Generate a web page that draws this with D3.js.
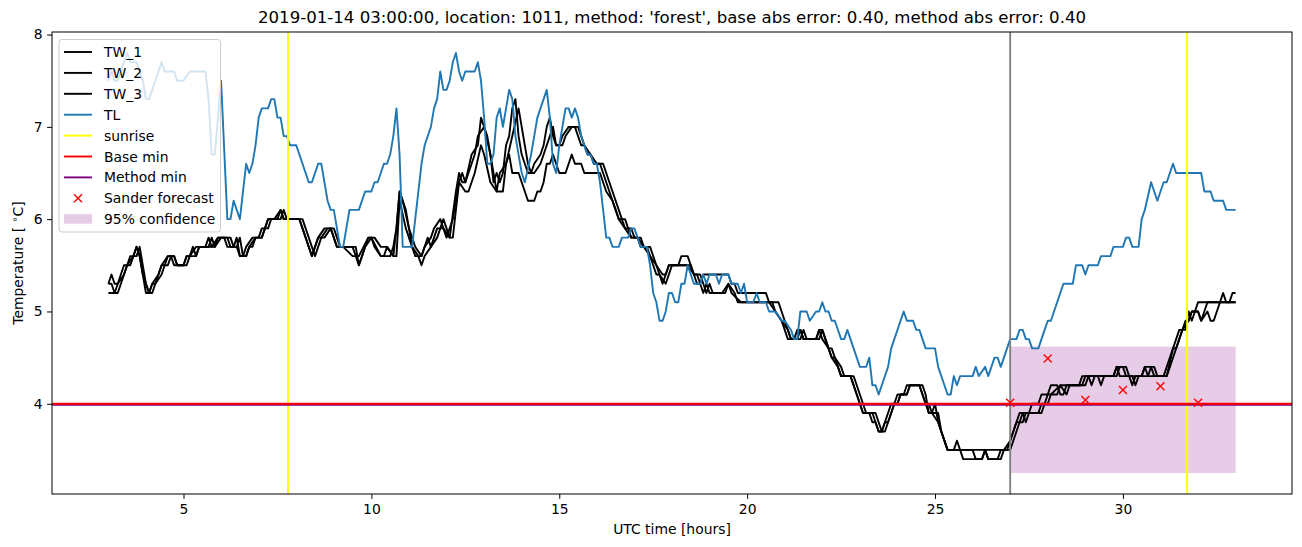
<!DOCTYPE html>
<html><head><meta charset="utf-8">
<script src="https://cdn.jsdelivr.net/npm/d3@7"></script>
<style>body{margin:0;background:#fff} svg{display:block} text{font-family:"DejaVu Sans",sans-serif;fill:#000}</style>
</head><body><svg id="c" width="1302" height="547"></svg>
<script>
// time in minutes after 00:00 UTC of the day, value in °C
const TL = [[180,7.5],[185,7.6],[190,7.5],[195,7.5],[210,7.8],[215,7.7],[225,7.7],[235,7.5],[240,7.3],[245,7.3],[265,7.7],[270,7.6],[285,7.6],[290,7.5],[300,7.5],[310,7.6],[335,7.6],[340,7.3],[345,6.7],[350,6.7],[360,7.5],[370,6.0],[375,6.0],[380,6.2],[390,6.0],[400,6.6],[405,6.5],[410,6.6],[415,6.8],[420,7.1],[425,7.2],[435,7.2],[440,7.3],[445,7.3],[450,7.1],[455,7.1],[460,6.9],[465,6.9],[470,6.8],[480,6.8],[500,6.4],[505,6.4],[515,6.6],[520,6.6],[530,6.2],[535,6.1],[540,6.1],[550,5.7],[555,5.7],[565,6.1],[580,6.1],[590,6.3],[600,6.3],[605,6.4],[610,6.4],[620,6.6],[625,6.6],[630,6.7],[635,6.9],[640,7.2],[645,6.7],[650,5.7],[665,5.7],[670,6.0],[680,6.6],[685,6.8],[695,7.0],[700,7.2],[705,7.3],[710,7.6],[715,7.4],[720,7.4],[725,7.5],[730,7.7],[735,7.8],[740,7.6],[745,7.5],[750,7.6],[765,7.6],[770,7.7],[775,7.5],[780,7.1],[785,6.6],[790,6.6],[795,6.7],[800,7.1],[805,7.2],[810,7.0],[820,7.4],[825,7.3],[830,6.9],[835,6.7],[840,6.5],[845,6.4],[855,6.7],[865,7.1],[870,7.2],[880,7.4],[885,7.1],[890,6.6],[895,6.5],[900,6.8],[910,7.2],[915,7.2],[920,7.1],[925,7.2],[930,7.1],[935,6.9],[945,6.7],[950,6.7],[955,6.6],[960,6.6],[965,6.4],[970,6.1],[975,5.8],[980,5.8],[985,5.7],[995,5.7],[1000,5.8],[1010,5.8],[1015,5.9],[1020,5.9],[1025,5.8],[1030,5.7],[1040,5.7],[1045,5.5],[1050,5.2],[1055,5.1],[1060,4.9],[1065,4.9],[1070,5.0],[1075,5.2],[1080,5.2],[1085,5.1],[1090,5.1],[1095,5.3],[1100,5.3],[1105,5.5],[1110,5.4],[1115,5.3],[1125,5.3],[1130,5.4],[1135,5.3],[1140,5.4],[1150,5.4],[1155,5.3],[1160,5.4],[1170,5.4],[1175,5.3],[1185,5.3],[1190,5.2],[1195,5.3],[1200,5.1],[1210,5.1],[1215,5.2],[1220,5.1],[1230,5.1],[1235,5.0],[1245,5.0],[1255,4.9],[1260,4.9],[1270,4.8],[1275,4.7],[1280,4.7],[1285,5.0],[1295,5.0],[1300,4.9],[1310,5.0],[1315,5.0],[1320,5.1],[1325,5.0],[1330,5.0],[1335,4.9],[1340,4.9],[1350,4.7],[1355,4.7],[1360,4.8],[1370,4.6],[1380,4.4],[1390,4.4],[1395,4.5],[1400,4.2],[1405,4.2],[1410,4.1],[1415,4.2],[1425,4.4],[1430,4.6],[1440,4.8],[1450,5.0],[1455,4.9],[1465,4.9],[1470,4.8],[1475,4.8],[1485,4.6],[1500,4.6],[1505,4.4],[1515,4.2],[1520,4.1],[1525,4.1],[1530,4.3],[1535,4.2],[1540,4.3],[1560,4.3],[1565,4.4],[1570,4.3],[1580,4.4],[1585,4.3],[1595,4.5],[1600,4.5],[1605,4.4],[1620,4.7],[1630,4.7],[1635,4.8],[1640,4.8],[1645,4.7],[1650,4.7],[1655,4.6],[1665,4.6],[1675,4.8],[1680,4.9],[1685,4.9],[1695,5.1],[1705,5.3],[1720,5.3],[1725,5.5],[1735,5.5],[1740,5.4],[1745,5.5],[1760,5.5],[1765,5.6],[1780,5.6],[1785,5.7],[1800,5.7],[1805,5.8],[1810,5.8],[1815,5.7],[1825,5.7],[1830,6.0],[1835,6.1],[1845,6.4],[1855,6.2],[1865,6.4],[1870,6.4],[1880,6.6],[1885,6.5],[1925,6.5],[1930,6.3],[1940,6.3],[1945,6.2],[1960,6.2],[1965,6.1],[1980,6.1]];

const TW_1 = [[180,5.3],[185,5.4],[190,5.3],[195,5.3],[200,5.4],[205,5.5],[210,5.5],[215,5.6],[220,5.6],[225,5.7],[230,5.6],[235,5.4],[240,5.2],[245,5.2],[250,5.3],[255,5.3],[260,5.4],[265,5.5],[270,5.5],[275,5.6],[280,5.6],[285,5.5],[300,5.5],[305,5.6],[310,5.6],[315,5.7],[320,5.6],[325,5.7],[335,5.7],[340,5.8],[345,5.7],[350,5.7],[355,5.8],[370,5.8],[375,5.7],[380,5.7],[385,5.8],[390,5.6],[395,5.6],[400,5.7],[410,5.8],[420,5.8],[425,5.9],[430,5.9],[435,6.0],[445,6.0],[455,6.1],[460,6.0],[485,6.0],[490,5.9],[495,5.8],[505,5.6],[515,5.8],[525,5.9],[535,5.9],[545,5.7],[555,5.7],[570,5.6],[580,5.6],[595,5.8],[600,5.8],[615,5.6],[620,5.6],[625,5.7],[635,5.6],[640,5.9],[645,6.3],[650,6.2],[655,6.1],[660,5.9],[670,5.7],[680,5.6],[685,5.7],[695,5.8],[700,5.9],[710,6.0],[715,5.9],[725,5.8],[735,6.3],[740,6.5],[745,6.4],[750,6.4],[760,6.7],[770,6.8],[775,7.1],[780,7.0],[790,6.7],[795,6.4],[800,6.5],[805,6.4],[810,6.5],[815,6.8],[820,6.9],[825,7.2],[830,7.3],[835,6.9],[840,6.7],[845,6.6],[850,6.5],[855,6.5],[860,6.6],[870,6.7],[875,6.8],[880,7.0],[885,7.1],[890,6.9],[895,6.8],[900,6.8],[905,6.9],[915,7.0],[925,7.0],[930,6.9],[935,6.8],[940,6.8],[945,6.7],[950,6.7],[955,6.6],[965,6.6],[970,6.5],[975,6.4],[980,6.3],[990,6.1],[995,6.0],[1000,6.0],[1005,5.9],[1010,5.9],[1015,5.8],[1025,5.8],[1030,5.7],[1040,5.7],[1045,5.6],[1050,5.5],[1055,5.4],[1060,5.4],[1065,5.3],[1070,5.4],[1075,5.5],[1090,5.5],[1095,5.6],[1105,5.6],[1110,5.5],[1115,5.4],[1120,5.4],[1125,5.3],[1130,5.4],[1170,5.4],[1175,5.3],[1180,5.3],[1185,5.2],[1230,5.2],[1235,5.1],[1250,5.1],[1260,4.9],[1270,4.7],[1275,4.7],[1280,4.8],[1285,4.8],[1290,4.7],[1310,4.7],[1315,4.8],[1320,4.8],[1325,4.7],[1330,4.6],[1335,4.5],[1340,4.5],[1345,4.4],[1350,4.3],[1365,4.3],[1370,4.2],[1375,4.1],[1380,4.0],[1385,3.9],[1400,3.9],[1405,3.8],[1410,3.7],[1415,3.7],[1420,3.8],[1425,3.9],[1430,4.0],[1435,4.0],[1440,4.1],[1450,4.1],[1455,4.2],[1475,4.2],[1480,4.1],[1485,4.0],[1490,3.9],[1495,3.9],[1500,4.0],[1505,3.8],[1510,3.7],[1515,3.6],[1520,3.5],[1530,3.5],[1535,3.6],[1540,3.5],[1615,3.5],[1620,3.6],[1625,3.7],[1630,3.8],[1635,3.9],[1640,3.9],[1645,3.8],[1650,3.9],[1670,3.9],[1675,4.0],[1680,4.1],[1685,4.1],[1700,4.2],[1740,4.2],[1745,4.3],[1785,4.3],[1790,4.4],[1805,4.4],[1810,4.3],[1830,4.3],[1835,4.4],[1845,4.4],[1850,4.3],[1865,4.3],[1875,4.5],[1880,4.6],[1885,4.7],[1890,4.8],[1895,4.8],[1900,4.9],[1905,4.9],[1910,5.0],[1915,5.0],[1920,5.1],[1980,5.1]];

const TW_2 = [[180,5.2],[190,5.2],[195,5.3],[205,5.4],[210,5.5],[220,5.6],[225,5.6],[230,5.7],[235,5.5],[240,5.3],[245,5.2],[250,5.2],[255,5.3],[265,5.4],[270,5.5],[275,5.5],[280,5.6],[285,5.6],[290,5.5],[305,5.5],[310,5.6],[320,5.7],[330,5.7],[340,5.7],[345,5.8],[350,5.7],[360,5.8],[375,5.8],[380,5.7],[385,5.7],[390,5.8],[395,5.6],[400,5.6],[405,5.7],[415,5.8],[425,5.8],[430,5.9],[435,5.9],[440,6.0],[455,6.0],[460,6.1],[465,6.0],[490,6.0],[495,5.9],[500,5.8],[505,5.7],[510,5.6],[515,5.7],[520,5.8],[530,5.9],[540,5.9],[550,5.7],[575,5.7],[580,5.5],[585,5.6],[595,5.8],[605,5.8],[615,5.7],[625,5.7],[635,5.6],[640,5.6],[645,6.2],[655,5.9],[665,5.7],[670,5.6],[680,5.6],[690,5.8],[695,5.7],[705,5.8],[715,6.0],[720,5.9],[725,5.8],[730,5.8],[740,6.4],[745,6.5],[750,6.4],[755,6.5],[765,6.7],[770,6.9],[780,7.0],[785,6.9],[795,6.5],[800,6.3],[805,6.5],[815,6.6],[825,6.9],[835,7.2],[840,7.0],[845,6.8],[850,6.6],[855,6.5],[860,6.5],[870,6.6],[880,6.8],[885,6.9],[890,7.0],[895,6.8],[905,6.8],[910,6.9],[920,7.0],[930,7.0],[935,6.9],[940,6.8],[950,6.7],[960,6.6],[970,6.6],[975,6.5],[980,6.4],[985,6.3],[995,6.1],[1000,6.0],[1005,6.0],[1010,5.9],[1015,5.9],[1020,5.8],[1030,5.8],[1035,5.7],[1045,5.7],[1050,5.6],[1055,5.5],[1060,5.4],[1070,5.3],[1075,5.4],[1080,5.5],[1110,5.5],[1115,5.4],[1125,5.4],[1130,5.3],[1135,5.2],[1140,5.3],[1145,5.2],[1165,5.2],[1170,5.3],[1175,5.2],[1190,5.1],[1240,5.1],[1245,5.0],[1255,4.9],[1265,4.7],[1280,4.7],[1285,4.8],[1290,4.7],[1315,4.7],[1320,4.8],[1325,4.7],[1330,4.6],[1335,4.6],[1340,4.5],[1350,4.4],[1355,4.3],[1370,4.3],[1375,4.2],[1380,4.1],[1385,4.0],[1390,3.9],[1405,3.9],[1410,3.8],[1415,3.7],[1420,3.7],[1425,3.8],[1430,3.9],[1435,4.0],[1440,4.0],[1445,4.1],[1455,4.1],[1460,4.2],[1480,4.2],[1485,4.1],[1490,3.9],[1505,3.9],[1510,3.7],[1520,3.5],[1540,3.5],[1545,3.4],[1575,3.4],[1580,3.5],[1585,3.4],[1605,3.4],[1610,3.5],[1620,3.5],[1625,3.6],[1630,3.7],[1635,3.8],[1640,3.8],[1645,3.9],[1665,3.9],[1670,4.0],[1680,4.0],[1685,4.1],[1695,4.1],[1700,4.2],[1710,4.1],[1715,4.2],[1735,4.2],[1740,4.3],[1760,4.3],[1765,4.2],[1770,4.3],[1790,4.3],[1795,4.4],[1800,4.4],[1805,4.3],[1815,4.3],[1820,4.2],[1825,4.3],[1840,4.3],[1845,4.4],[1850,4.4],[1855,4.3],[1870,4.3],[1880,4.5],[1890,4.7],[1895,4.8],[1905,4.9],[1910,5.0],[1920,5.0],[1925,4.9],[1930,5.0],[1935,5.1],[1955,5.1],[1960,5.2],[1965,5.1],[1980,5.1]];

const TW_3 = [[180,5.3],[185,5.3],[190,5.2],[195,5.2],[200,5.3],[210,5.5],[215,5.5],[220,5.6],[225,5.7],[230,5.6],[235,5.4],[240,5.3],[245,5.2],[250,5.3],[260,5.4],[265,5.5],[275,5.6],[285,5.6],[290,5.5],[300,5.5],[305,5.6],[320,5.6],[325,5.7],[345,5.7],[355,5.8],[365,5.8],[370,5.7],[385,5.7],[390,5.6],[400,5.6],[405,5.7],[410,5.7],[415,5.8],[425,5.8],[435,6.0],[450,6.0],[455,6.1],[460,6.0],[485,6.0],[495,5.8],[505,5.6],[515,5.8],[525,5.8],[535,5.9],[545,5.7],[570,5.7],[575,5.6],[580,5.5],[585,5.6],[590,5.7],[600,5.8],[605,5.7],[615,5.6],[630,5.6],[635,5.7],[640,5.9],[645,6.3],[650,6.2],[660,5.9],[665,5.7],[675,5.6],[680,5.5],[685,5.6],[695,5.7],[705,5.9],[715,5.9],[720,5.8],[730,6.0],[735,6.2],[740,6.4],[750,6.3],[755,6.3],[765,6.5],[775,6.8],[780,6.7],[790,6.4],[800,6.3],[810,6.3],[815,6.6],[820,6.7],[825,6.5],[835,6.5],[840,6.4],[845,6.3],[850,6.2],[860,6.2],[865,6.3],[870,6.3],[875,6.4],[880,6.6],[885,6.6],[890,6.7],[895,6.6],[900,6.5],[910,6.5],[915,6.6],[920,6.7],[925,6.6],[935,6.6],[940,6.5],[965,6.5],[970,6.4],[975,6.3],[985,6.2],[990,6.1],[995,6.0],[1005,5.9],[1015,5.8],[1025,5.8],[1035,5.7],[1045,5.6],[1055,5.5],[1065,5.4],[1070,5.4],[1075,5.5],[1105,5.5],[1115,5.4],[1120,5.3],[1125,5.3],[1130,5.2],[1135,5.3],[1140,5.2],[1160,5.2],[1170,5.3],[1180,5.2],[1185,5.1],[1235,5.1],[1245,5.0],[1255,4.9],[1265,4.8],[1270,4.7],[1285,4.7],[1290,4.8],[1295,4.7],[1310,4.7],[1315,4.8],[1320,4.7],[1330,4.6],[1335,4.5],[1345,4.4],[1350,4.3],[1365,4.3],[1370,4.2],[1375,4.1],[1380,4.0],[1385,3.9],[1395,3.9],[1400,3.8],[1405,3.8],[1410,3.7],[1415,3.7],[1420,3.8],[1425,3.8],[1430,3.9],[1435,4.0],[1440,4.0],[1445,4.1],[1455,4.1],[1460,4.2],[1475,4.2],[1480,4.1],[1485,4.0],[1490,4.0],[1495,3.9],[1505,3.8],[1510,3.7],[1515,3.6],[1520,3.5],[1560,3.5],[1565,3.4],[1575,3.4],[1580,3.5],[1585,3.4],[1600,3.4],[1605,3.5],[1610,3.5],[1620,3.6],[1630,3.8],[1635,3.8],[1640,3.9],[1650,3.9],[1655,4.0],[1665,4.0],[1670,4.1],[1680,4.1],[1685,4.2],[1695,4.2],[1700,4.1],[1705,4.1],[1710,4.2],[1730,4.2],[1735,4.3],[1745,4.3],[1750,4.2],[1755,4.3],[1785,4.3],[1790,4.4],[1795,4.3],[1810,4.3],[1815,4.2],[1820,4.3],[1830,4.3],[1835,4.4],[1840,4.3],[1870,4.3],[1880,4.6],[1885,4.6],[1895,4.8],[1900,4.8],[1905,5.0],[1910,4.9],[1915,5.0],[1920,5.0],[1925,4.9],[1935,5.0],[1940,4.9],[1945,4.9],[1950,5.0],[1955,5.1],[1970,5.1],[1975,5.2],[1980,5.2]];

const sunriseHours = [7.78, 31.71];
const forecastStartHour = 27;
const baseMin = 4.0;
const methodMin = 3.99;
const forecastHours = [27, 28, 29, 30, 31, 32];
const forecastValues = [4.01, 4.49, 4.04, 4.15, 4.19, 4.01];
const confidenceHours = [27, 33];
const confidenceLow = 3.25;
const confidenceHigh = 4.62;
const xTicks = [5, 10, 15, 20, 25, 30];
const yTicks = [4, 5, 6, 7, 8];
const legendLabels = ["TW_1","TW_2","TW_3","TL","sunrise","Base min","Method min","Sander forecast","95% confidence"];
const titleText = "2019-01-14 03:00:00, location: 1011, method: 'forest', base abs error: 0.40, method abs error: 0.40";

const svg = d3.select("#c");
const L = 52, R = 1292, T = 32, B = 494;
const x = d3.scaleLinear().domain([1.5, 34.5]).range([L, R]);
const y = d3.scaleLinear().domain([3.0225, 8.0275]).range([B, T]);
const FS = 13.9;

const plot = svg.append("g");
const line = d3.line().x(d => x(d[0] / 60)).y(d => y(d[1]));
const LW = 1.9;

// confidence band
plot.append("rect")
  .attr("x", x(confidenceHours[0])).attr("width", x(confidenceHours[1]) - x(confidenceHours[0]))
  .attr("y", y(confidenceHigh)).attr("height", y(confidenceLow) - y(confidenceHigh))
  .attr("fill", "purple").attr("fill-opacity", 0.2);

[TW_1, TW_2, TW_3].forEach(s => plot.append("path").attr("d", line(s))
  .attr("fill", "none").attr("stroke", "black").attr("stroke-width", LW).attr("stroke-linejoin", "round"));
plot.append("path").attr("d", line(TL)).attr("fill", "none").attr("stroke", "#1f77b4")
  .attr("stroke-width", LW).attr("stroke-linejoin", "round");

sunriseHours.forEach(h => plot.append("line").attr("x1", x(h)).attr("x2", x(h)).attr("y1", T).attr("y2", B)
  .attr("stroke", "#ffff00").attr("stroke-width", LW));
plot.append("line").attr("x1", x(forecastStartHour)).attr("x2", x(forecastStartHour)).attr("y1", T).attr("y2", B)
  .attr("stroke", "#808080").attr("stroke-width", LW);
plot.append("line").attr("x1", L).attr("x2", R).attr("y1", y(methodMin)).attr("y2", y(methodMin))
  .attr("stroke", "purple").attr("stroke-width", LW);
plot.append("line").attr("x1", L).attr("x2", R).attr("y1", y(baseMin)).attr("y2", y(baseMin))
  .attr("stroke", "red").attr("stroke-width", LW);

const xMark = (cx, cy, s) => `M${cx-s},${cy-s}L${cx+s},${cy+s}M${cx-s},${cy+s}L${cx+s},${cy-s}`;
forecastHours.forEach((h, i) => plot.append("path").attr("d", xMark(x(h), y(forecastValues[i]), 4))
  .attr("stroke", "red").attr("stroke-width", 1.4).attr("fill", "none"));

// frame
svg.append("rect").attr("x", L).attr("y", T).attr("width", R - L).attr("height", B - T)
  .attr("fill", "none").attr("stroke", "black").attr("stroke-width", 1);

// axes
const gx = svg.append("g").attr("transform", `translate(0,${B})`)
  .call(d3.axisBottom(x).tickValues(xTicks).tickFormat(d3.format("d")).tickSizeOuter(0).tickSize(4.9).tickPadding(5.5));
const gy = svg.append("g").attr("transform", `translate(${L},0)`)
  .call(d3.axisLeft(y).tickValues(yTicks).tickFormat(d3.format("d")).tickSizeOuter(0).tickSize(4.9).tickPadding(4.5));
[gx, gy].forEach(g => {
  g.select(".domain").remove();
  g.selectAll("line").attr("stroke", "black").attr("stroke-width", 1);
  g.selectAll("text").attr("font-family", "DejaVu Sans").attr("font-size", FS).attr("fill", "black");
});

svg.append("text").attr("x", (L + R) / 2).attr("y", 534).attr("text-anchor", "middle")
  .attr("font-size", FS).text("UTC time [hours]");
const yl = svg.append("text").attr("transform", `translate(23,${(T + B) / 2}) rotate(-90)`).attr("text-anchor", "middle")
  .attr("font-size", FS);
yl.append("tspan").text("Temperature [ ");
yl.append("tspan").attr("font-size", FS * 0.7).attr("dy", -5).text("∘");
yl.append("tspan").attr("dy", 5).text("C]");
svg.append("text").attr("x", (L + R) / 2).attr("y", 23).attr("text-anchor", "middle")
  .attr("font-size", 16.6).text(titleText);

// legend
const lg = svg.append("g");
lg.append("rect").attr("x", 59).attr("y", 39.5).attr("width", 161.5).attr("height", 192.5).attr("rx", 3)
  .attr("fill", "white").attr("fill-opacity", 0.8).attr("stroke", "#cccccc").attr("stroke-width", 1);
const legendStyle = [
  {t: "line", c: "black"}, {t: "line", c: "black"}, {t: "line", c: "black"}, {t: "line", c: "#1f77b4"},
  {t: "line", c: "#ffff00"}, {t: "line", c: "red"}, {t: "line", c: "purple"}, {t: "x", c: "red"}, {t: "patch", c: "purple"}
];
legendLabels.forEach((lab, i) => {
  const cy = 52 + i * 20.9;
  const st = legendStyle[i];
  if (st.t === "line") lg.append("line").attr("x1", 64).attr("x2", 92).attr("y1", cy).attr("y2", cy)
    .attr("stroke", st.c).attr("stroke-width", LW);
  else if (st.t === "x") lg.append("path").attr("d", xMark(78, cy, 4)).attr("stroke", st.c).attr("stroke-width", 1.4);
  else lg.append("rect").attr("x", 64).attr("y", cy - 5).attr("width", 28).attr("height", 9.5)
    .attr("fill", st.c).attr("fill-opacity", 0.2);
  lg.append("text").attr("x", 104).attr("y", cy + 5).attr("font-size", FS).text(lab);
});
</script></body></html>
